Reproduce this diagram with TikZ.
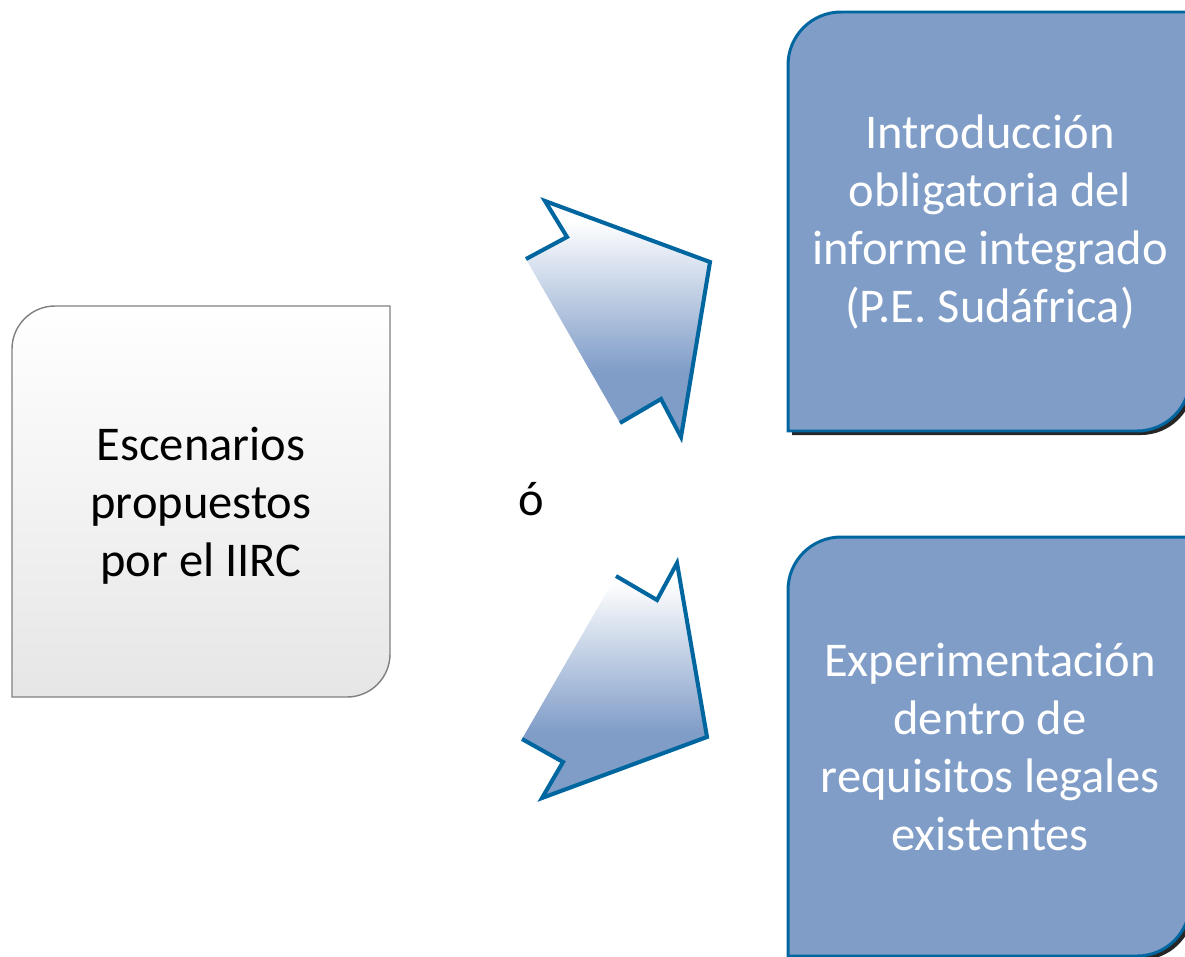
\documentclass[tikz,border=0pt]{standalone}
\usepackage{fontspec}
\setmainfont{Carlito}
\definecolor{edgeblue}{RGB}{0,102,160}
\definecolor{boxblue}{RGB}{128,157,200}
\definecolor{boxgray}{RGB}{230,230,230}
\pgfdeclareverticalshading{arrowfade}{100bp}{color(0bp)=(boxblue); color(39bp)=(boxblue); color(71bp)=(white); color(100bp)=(white)}
\tikzset{scenario/.style={fill=boxblue,draw=edgeblue,line width=1.7pt}}
\tikzset{source/.style={top color=white,bottom color=boxgray,draw=gray,line width=0.8pt}}
\tikzset{boxshadow/.style={fill=black!85}}
\tikzset{boxtext/.style={align=center,font=\fontsize{27.6}{33}\selectfont}}
\tikzset{arrowbody/.style={shading=arrowfade}}
\tikzset{arrowline/.style={draw=edgeblue,line width=2.3pt,line join=miter}}
% box with rounded top left and bottom right corners: [style]{radius}{x1}{y1}{x2}{y2}
\newcommand{\cutbox}[6][]{%
  \path[#1] (#5,#4) -- ({#3+#2},#4) .. controls ({#3+0.448*#2},#4) and (#3,{#4+0.448*#2}) .. (#3,{#4+#2})
    -- (#3,#6) -- ({#5-#2},#6) .. controls ({#5-0.448*#2},#6) and (#5,{#6-0.448*#2}) .. (#5,{#6-#2}) -- cycle;}

\begin{document}
\begin{tikzpicture}[x=0.02cm,y=-0.02cm]
\useasboundingbox (0,0) rectangle (1185,956);
\clip (0,0) rectangle (1185,956);

% left box
\cutbox[source]{43}{12}{306}{390}{697}
\node[boxtext] (scenarios) at (201,506) {Escenarios\\propuestos\\por el IIRC};

% right boxes
\cutbox[boxshadow]{53}{792}{16}{1194}{435}
\cutbox[scenario]{53}{788}{12}{1190}{431}
\node[boxtext,text=white] (mandatory) at (990,222) {Introducción\\obligatoria del\\informe integrado\\(P.E. Sudáfrica)};

\cutbox[boxshadow]{53}{792}{541}{1194}{960}
\cutbox[scenario]{53}{788}{537}{1190}{956}
\node[boxtext,text=white] (experiment) at (990,747) {Experimentación\\dentro de\\requisitos legales\\existentes};

\node[boxtext] (either) at (531,499) {ó};

% upper arrow
\coordinate (ua) at (545,201);
\coordinate (ub) at (567,237);
\coordinate (uc) at (526,259);
\coordinate (ud) at (620,423);
\coordinate (ue) at (661,399);
\coordinate (uf) at (681,437);
\coordinate (ug) at (710,262);
\path[arrowbody] (ua) -- (ub) -- (uc) -- (ud) -- (ue) -- (uf) -- (ug) -- cycle;
\draw[arrowline] (uc) -- (ub) -- (ua) -- (ug) -- (uf) -- (ue) -- (ud);

% lower arrow
\coordinate (la) at (616,576);
\coordinate (lb) at (657,600);
\coordinate (lc) at (677,563);
\coordinate (ld) at (707,737);
\coordinate (le) at (542,798);
\coordinate (lf) at (563,762);
\coordinate (lg) at (522,739);
\path[arrowbody] (la) -- (lb) -- (lc) -- (ld) -- (le) -- (lf) -- (lg) -- cycle;
\draw[arrowline] (la) -- (lb) -- (lc) -- (ld) -- (le) -- (lf) -- (lg);

\end{tikzpicture}
\end{document}
